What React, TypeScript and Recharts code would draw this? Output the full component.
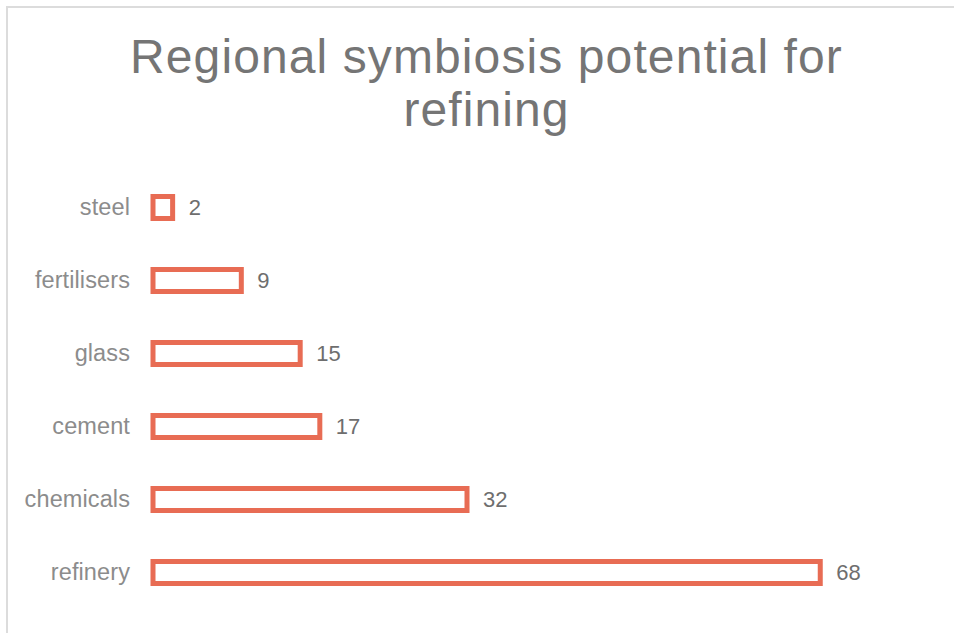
import React from 'react';
import { BarChart, Bar, XAxis, YAxis, LabelList } from 'recharts';

const categories = ['steel', 'fertilisers', 'glass', 'cement', 'chemicals', 'refinery'];
const values = [2, 9, 15, 17, 32, 68];

const data = categories.map((name, i) => ({ name, value: values[i] }));

const FONT = '"Liberation Sans", Arial, sans-serif';

export default function App() {
  return (
    <div style={{ position: 'absolute', left: 0, top: 0, width: 954, height: 633, background: '#fff', overflow: 'hidden' }}>
      <div
        style={{
          position: 'absolute',
          left: 6,
          top: 6,
          width: 948,
          height: 627,
          borderLeft: '2px solid #dcdcdc',
          borderTop: '2px solid #dcdcdc',
          boxSizing: 'border-box',
        }}
      />
      <div
        style={{
          position: 'absolute',
          left: 0,
          top: 30,
          width: 973,
          textAlign: 'center',
          fontFamily: FONT,
          fontSize: 48,
          letterSpacing: 1.1,
          lineHeight: '53px',
          color: '#757575',
        }}
      >
        Regional symbiosis potential for
        <br />
        refining
      </div>
      <div style={{ position: 'absolute', left: 0, top: 0 }}>
        <BarChart
          width={954}
          height={633}
          data={data}
          layout="vertical"
          margin={{ top: 170.5, right: 16, bottom: 24.5, left: 0 }}
          barCategoryGap={0}
        >
          <XAxis type="number" domain={[0, 80]} hide />
          <YAxis
            type="category"
            dataKey="name"
            width={153}
            axisLine={false}
            tickLine={false}
            tickSize={0}
            tickMargin={23}
            tick={{ fill: '#8c8c8c', fontSize: 23.5, fontFamily: FONT, letterSpacing: 0.1 }}
          />
          <Bar
            dataKey="value"
            barSize={22}
            fill="#ffffff"
            stroke="#E86C54"
            strokeWidth={5}
            isAnimationActive={false}
          >
            <LabelList
              dataKey="value"
              position="right"
              offset={16}
              style={{ fill: '#6e6e6e', fontSize: 22, fontFamily: FONT }}
            />
          </Bar>
        </BarChart>
      </div>
    </div>
  );
}
